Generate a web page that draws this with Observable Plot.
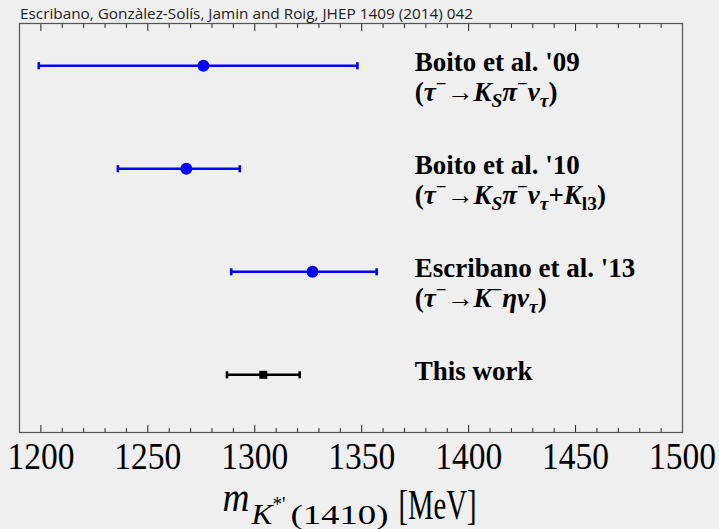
<!DOCTYPE html>
<html><head><meta charset="utf-8">
<script src="https://cdn.jsdelivr.net/npm/d3@7"></script>
<script src="https://cdn.jsdelivr.net/npm/@observablehq/plot@0.6"></script>
<style>
html,body{margin:0;padding:0;background:#efefef;}
</style></head><body><div id="chart"></div>
<script>
// ---- data ----
const experiments = ["Boito et al. '09", "Boito et al. '10", "Escribano et al. '13", "This work"];
const central = [1276, 1268, 1327, 1304];
const lower = [1199, 1236, 1289, 1287];
const upper = [1348, 1293, 1357, 1321];
const rows = [4, 3, 2, 1];
const colors = ["#0000ff", "#0000ff", "#0000ff", "#000000"];
const markers = ["circle", "circle", "circle", "square"];
// second label lines: [text, style]; styles: r = roman, i = italic, sup, sub, subi
const processes = [
  [["(", "r"], ["τ", "i"], ["−", "sup"], ["→", "r"], ["K", "i"], ["S", "subi"], ["π", "i"], ["−", "sup"], ["ν", "i"], ["τ", "subi"], [")", "r"]],
  [["(", "r"], ["τ", "i"], ["−", "sup"], ["→", "r"], ["K", "i"], ["S", "subi"], ["π", "i"], ["−", "sup"], ["ν", "i"], ["τ", "subi"], ["+", "r"], ["K", "i"], ["l3", "sub"], [")", "r"]],
  [["(", "r"], ["τ", "i"], ["−", "sup"], ["→", "r"], ["K", "i"], ["−", "sup"], ["η", "i"], ["ν", "i"], ["τ", "subi"], [")", "r"]],
  null
];
const majorTicks = [1200, 1250, 1300, 1350, 1400, 1450, 1500];
const minorTicks = [1190, 1210, 1220, 1230, 1240, 1260, 1270, 1280, 1290, 1310, 1320, 1330, 1340, 1360, 1370, 1380, 1390, 1410, 1420, 1430, 1440, 1460, 1470, 1480, 1490];
const credit = "Escribano, Gonzàlez-Solís, Jamin and Roig, JHEP 1409 (2014) 042";
const labelX = 1375;

const data = experiments.map((name, i) => ({
  name, c: central[i], lo: lower[i], hi: upper[i], row: rows[i], color: colors[i], marker: markers[i], proc: processes[i]
}));

const capSymbol = {draw(ctx, size) { const h = Math.sqrt(size) / 2; ctx.moveTo(0, -h); ctx.lineTo(0, h); }};
const tickShape = {draw(ctx, l) { ctx.moveTo(0, 0); ctx.lineTo(0, -l); }};
const serif = "'Liberation Serif', 'Times New Roman', serif";

const plot = Plot.plot({
  width: 719, height: 529,
  marginLeft: 19, marginRight: 37, marginTop: 23, marginBottom: 97,
  style: {background: "#efefef", overflow: "visible", fontFamily: serif},
  x: {domain: [1190, 1500], label: null},
  y: {domain: [0.44, 4.41], axis: null, label: null},
  color: {type: "identity"},
  marks: [
    Plot.vector(minorTicks, {x: d => d, frameAnchor: "bottom", length: 4, rotate: 0, anchor: "start", shape: tickShape, stroke: "#222", strokeWidth: 1}),
    Plot.vector(majorTicks, {x: d => d, frameAnchor: "bottom", length: 7, rotate: 0, anchor: "start", shape: tickShape, stroke: "#222", strokeWidth: 1}),
    Plot.vector(minorTicks, {x: d => d, frameAnchor: "top", length: 4, rotate: 180, anchor: "start", shape: tickShape, stroke: "#222", strokeWidth: 1}),
    Plot.vector(majorTicks, {x: d => d, frameAnchor: "top", length: 7, rotate: 180, anchor: "start", shape: tickShape, stroke: "#222", strokeWidth: 1}),
    Plot.axisX({anchor: "bottom", ticks: majorTicks, tickSize: 0, tickPadding: 10, label: null, fontSize: 37, fill: "#000", tickFormat: d => String(d)}),
    Plot.frame({stroke: "#555", strokeWidth: 1.2}),
    Plot.ruleY(data, {y: "row", x1: "lo", x2: "hi", stroke: "color", strokeWidth: 2.6}),
    Plot.dot(data, {x: "lo", y: "row", symbol: capSymbol, r: 4, fill: "none", stroke: "color", strokeWidth: 2.6}),
    Plot.dot(data, {x: "hi", y: "row", symbol: capSymbol, r: 4, fill: "none", stroke: "color", strokeWidth: 2.6}),
    Plot.dot(data.filter(d => d.marker === "circle"), {x: "c", y: "row", r: 6, fill: "color", stroke: null}),
    Plot.dot(data.filter(d => d.marker === "square"), {x: "c", y: "row", symbol: "square", r: 4.5, fill: "color", stroke: null})
  ]
});

document.getElementById("chart").appendChild(plot);
const svg = d3.select(plot);
const xs = plot.scale("x"), ys = plot.scale("y");

// condense tick labels like the original
svg.selectAll('g[aria-label="x-axis tick label"] text')
  .attr("textLength", 67).attr("lengthAdjust", "spacingAndGlyphs");

// credit line
svg.append("text").attr("x", 20).attr("y", 19).attr("text-anchor", "start")
  .attr("font-family", "'Open Sans', 'Noto Sans', sans-serif").attr("font-size", 14.5)
  .attr("fill", "#222").attr("textLength", 453).attr("lengthAdjust", "spacingAndGlyphs")
  .text(credit);

function rich(textEl, segs, size) {
  let cur = 0;
  for (const [t, s] of segs) {
    let shift = 0, fs = size, style = "normal", dx = 0;
    if (s === "i") style = "italic";
    if (s === "sup") { shift = -0.4 * size; fs = 0.7 * size; }
    if (s === "sub") { shift = 0.22 * size; fs = 0.72 * size; }
    if (s === "subi") { shift = 0.22 * size; fs = 0.72 * size; style = "italic"; }
    textEl.append("tspan").attr("dy", shift - cur).attr("font-size", fs).attr("font-style", style).text(t);
    cur = shift;
  }
}

// right-hand labels
const lab = svg.append("g").attr("font-family", serif).attr("font-weight", "bold").attr("fill", "#000").attr("text-anchor", "start");
for (const d of data) {
  const px = xs.apply(labelX), py = ys.apply(d.row);
  lab.append("text").attr("x", px).attr("y", py + 6).attr("font-size", 27).text(d.name);
  if (d.proc) rich(lab.append("text").attr("x", px).attr("y", py + 36).attr("font-size", 27), d.proc, 27);
}

// x-axis title: m_{K*'(1410)} [MeV]
const tg = svg.append("g").attr("font-family", serif).attr("fill", "#000").attr("text-anchor", "start");
const cx = (xs.apply(1190) + xs.apply(1500)) / 2;
const parts = [
  {t: "m", dx: -128, y: 511, fs: 42, style: "italic", len: 27},
  {t: "K", dx: -99, y: 524, fs: 30, style: "italic", len: 21},
  {t: "*'", dx: -78, y: 511, fs: 21, style: "normal", len: 13},
  {t: "(1410)", dx: -60, y: 524, fs: 28, style: "normal", len: 98},
  {t: "[MeV]", dx: 48, y: 519, fs: 42, style: "normal", len: 78}
];
for (const p of parts) {
  tg.append("text").attr("x", cx + p.dx).attr("y", p.y).attr("font-size", p.fs).attr("font-style", p.style)
    .attr("textLength", p.len).attr("lengthAdjust", "spacingAndGlyphs").text(p.t);
}
</script></body></html>
